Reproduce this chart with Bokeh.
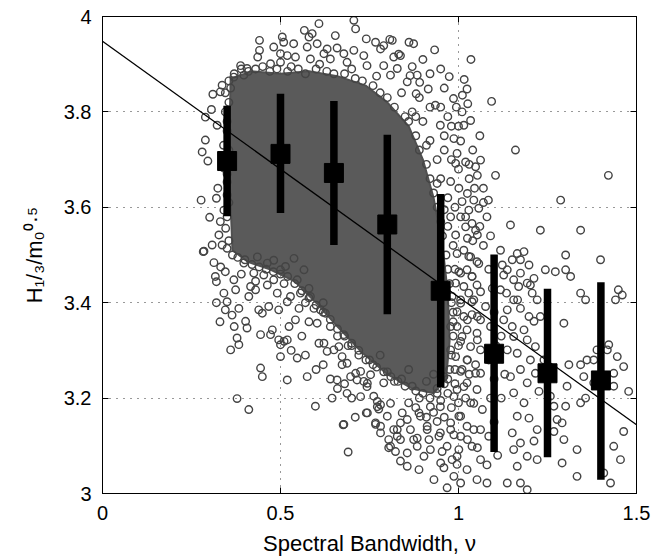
from bokeh.plotting import figure
from bokeh.models import LinearAxis, FixedTicker, Range1d, ColumnDataSource
from bokeh.embed import file_html
from bokeh.resources import INLINE

# ---------------- data ----------------
x_ticks = [0, 0.5, 1, 1.5]
x_tick_labels = ["0", "0.5", "1", "1.5"]
y_ticks = [3, 3.2, 3.4, 3.6, 3.8, 4]
y_tick_labels = ["3", "3.2", "3.4", "3.6", "3.8", "4"]

# binned means with +/- one standard deviation
bin_x = [0.35, 0.5, 0.65, 0.8, 0.95, 1.1, 1.25, 1.4]
bin_mean = [3.697, 3.712, 3.672, 3.564, 3.425, 3.293, 3.252, 3.237]
bin_hi = [3.813, 3.838, 3.823, 3.752, 3.628, 3.501, 3.429, 3.443]
bin_lo = [3.581, 3.588, 3.521, 3.376, 3.223, 3.087, 3.076, 3.029]

# least-squares line
fit_x = [0.0, 1.5]
fit_y = [3.948, 3.144]

# outline of the region where the markers overlap into a solid mass
core_x = [0.36, 0.42, 0.50, 0.58, 0.66, 0.74, 0.80, 0.86, 0.90, 0.93, 0.955, 0.97,
          0.975, 0.965, 0.93, 0.87, 0.80, 0.73, 0.66, 0.60, 0.54, 0.47, 0.41, 0.365, 0.355]
core_y = [3.87, 3.885, 3.88, 3.885, 3.875, 3.855, 3.82, 3.77, 3.70, 3.62, 3.52, 3.42,
          3.32, 3.24, 3.21, 3.22, 3.25, 3.295, 3.35, 3.40, 3.445, 3.47, 3.485, 3.51, 3.70]

# observations sitting on the edge of the solid mass
edge_points = [
    (0.37, 3.88), (0.39, 3.89), (0.41, 3.885), (0.43, 3.89), (0.47, 3.885), (0.49, 3.89),
    (0.52, 3.885), (0.55, 3.89), (0.57, 3.88), (0.60, 3.89), (0.63, 3.885), (0.65, 3.88),
    (0.68, 3.88), (0.71, 3.87), (0.73, 3.865), (0.76, 3.855), (0.78, 3.84), (0.80, 3.83),
    (0.82, 3.81), (0.85, 3.79), (0.86, 3.78), (0.88, 3.75), (0.89, 3.72), (0.91, 3.69),
    (0.92, 3.66), (0.93, 3.63), (0.94, 3.60), (0.95, 3.57), (0.955, 3.54), (0.965, 3.50),
    (0.97, 3.47), (0.975, 3.44), (0.98, 3.40), (0.985, 3.36), (0.985, 3.33), (0.98, 3.29),
    (0.975, 3.26), (0.96, 3.23), (0.94, 3.21), (0.92, 3.20), (0.90, 3.21), (0.88, 3.215),
    (0.85, 3.225), (0.83, 3.235), (0.81, 3.245), (0.79, 3.255), (0.77, 3.265), (0.74, 3.28),
    (0.72, 3.30), (0.70, 3.315), (0.68, 3.33), (0.66, 3.345), (0.64, 3.365), (0.62, 3.38),
    (0.60, 3.395), (0.58, 3.41), (0.56, 3.425), (0.54, 3.44), (0.52, 3.455), (0.50, 3.46),
    (0.48, 3.465), (0.46, 3.47), (0.44, 3.475), (0.42, 3.48), (0.40, 3.49), (0.38, 3.495),
    (0.365, 3.50), (0.355, 3.53), (0.35, 3.58), (0.355, 3.61), (0.35, 3.67), (0.355, 3.72),
    (0.35, 3.78), (0.355, 3.82), (0.36, 3.85),
]

# individually visible observations (x = bandwidth, y = H1/3 / m0^0.5)
cloud_points = [
    (0.336, 3.856), (0.310, 3.837), (0.331, 3.842), (0.306, 3.805), (0.289, 3.789),
    (0.322, 3.772), (0.289, 3.741), (0.280, 3.716), (0.296, 3.697), (0.277, 3.615),
    (0.301, 3.579), (0.320, 3.619), (0.331, 3.570), (0.341, 3.594), (0.327, 3.542),
    (0.308, 3.521), (0.285, 3.508), (0.336, 3.521), (0.341, 3.682), (0.350, 3.653),
    (0.324, 3.640), (0.350, 3.626), (0.346, 3.556), (0.350, 3.514),
    (0.345, 3.80), (0.35, 3.76), (0.34, 3.73), (0.345, 3.84), (0.355, 3.865),
    (0.441, 3.950), (0.441, 3.929), (0.436, 3.915), (0.472, 3.901), (0.481, 3.936),
    (0.505, 3.957), (0.509, 3.946), (0.500, 3.922), (0.500, 3.904), (0.519, 3.918),
    (0.537, 3.943), (0.542, 3.915), (0.567, 3.971), (0.580, 3.957), (0.589, 3.964),
    (0.575, 3.936), (0.603, 3.943), (0.608, 3.985), (0.622, 3.922), (0.631, 3.932),
    (0.654, 3.960), (0.659, 3.934), (0.678, 3.922), (0.706, 3.992), (0.711, 3.974),
    (0.706, 3.929), (0.734, 3.918), (0.741, 3.953), (0.767, 3.946), (0.781, 3.932),
    (0.790, 3.939), (0.814, 3.950), (0.818, 3.915), (0.837, 3.918), (0.874, 3.943),
    (0.884, 3.877), (0.828, 3.891), (0.856, 3.863), (0.790, 3.897), (0.809, 3.877),
    (0.743, 3.897), (0.687, 3.904), (0.640, 3.911), (0.584, 3.911), (0.388, 3.897),
    (0.406, 3.891), (0.369, 3.873), (0.397, 3.877),
    (0.45, 3.895), (0.53, 3.895), (0.61, 3.90), (0.70, 3.89), (0.77, 3.875), (0.84, 3.84),
    (0.88, 3.79), (0.91, 3.73), (0.94, 3.65), (0.97, 3.56), (0.99, 3.47),
    (0.933, 3.930), (0.974, 3.874), (1.016, 3.868), (1.024, 3.848), (1.035, 3.910),
    (0.986, 3.828), (0.994, 3.810), (1.026, 3.817), (1.093, 3.822), (0.861, 3.946),
    (0.832, 3.921), (0.864, 3.876), (0.891, 3.862), (0.915, 3.848), (0.935, 3.814),
    (0.881, 3.838), (0.807, 3.952),
    (0.97, 3.79), (0.96, 3.85), (0.92, 3.88), (0.95, 3.89), (0.90, 3.91), (0.87, 3.895),
    (1.04, 3.72), (1.06, 3.75), (1.03, 3.66), (1.07, 3.64), (1.08, 3.58), (1.09, 3.54),
    (1.07, 3.52), (1.085, 3.47), (1.095, 3.43), (1.10, 3.38), (1.09, 3.35), (1.105, 3.31),
    (1.085, 3.28), (1.10, 3.24), (1.09, 3.20), (1.10, 3.15), (1.085, 3.12), (1.11, 3.08),
    (1.08, 3.06), (1.12, 3.20), (1.13, 3.25), (1.12, 3.33), (1.135, 3.42),
    (0.96, 3.75), (0.98, 3.70), (1.00, 3.68), (0.97, 3.62), (0.99, 3.60), (1.02, 3.58),
    (0.96, 3.595), (0.985, 3.52), (1.015, 3.51), (1.04, 3.53), (1.06, 3.56), (1.07, 3.61),
    (1.045, 3.64), (1.03, 3.69), (1.01, 3.80), (0.98, 3.77), (0.95, 3.81), (0.92, 3.81),
    (0.96, 3.72), (1.00, 3.77),
    (0.86, 3.19), (0.88, 3.18), (0.91, 3.16), (0.93, 3.17), (0.96, 3.16), (0.98, 3.18),
    (1.00, 3.19), (1.02, 3.20), (1.03, 3.25), (0.97, 3.21), (0.99, 3.23), (1.01, 3.26),
    (0.87, 3.80), (0.90, 3.78), (0.92, 3.74), (0.89, 3.83), (0.94, 3.70), (0.95, 3.66),
    (0.949, 3.772), (0.987, 3.744), (1.006, 3.739), (1.015, 3.772), (0.996, 3.713),
    (0.992, 3.692), (1.020, 3.695), (1.048, 3.685), (1.053, 3.667), (0.978, 3.654),
    (1.001, 3.640), (1.025, 3.629), (1.010, 3.612), (1.043, 3.615), (1.029, 3.594),
    (1.057, 3.598), (0.978, 3.580), (1.006, 3.580), (1.038, 3.566), (1.020, 3.559),
    (1.053, 3.542), (0.992, 3.542), (1.025, 3.535), (0.996, 3.503), (1.034, 3.496),
    (1.057, 3.482), (1.006, 3.462), (1.038, 3.455), (1.006, 3.406), (1.038, 3.402),
    (0.996, 3.381), (1.025, 3.364), (1.053, 3.371), (0.978, 3.350), (1.010, 3.329),
    (1.053, 3.322), (0.978, 3.301), (1.025, 3.280), (1.048, 3.252), (0.959, 3.245),
    (1.015, 3.224), (0.987, 3.203), (1.043, 3.189), (0.949, 3.182), (1.006, 3.162),
    (0.978, 3.148), (1.043, 3.134), (1.025, 3.113), (1.053, 3.096), (0.949, 3.127),
    (0.912, 3.141), (0.884, 3.116), (0.837, 3.113), (0.804, 3.096), (0.767, 3.145),
    (0.781, 3.127), (0.828, 3.134), (0.856, 3.155), (0.889, 3.169), (0.921, 3.182),
    (0.772, 3.182), (0.809, 3.189), (0.678, 3.145), (0.744, 3.169), (0.725, 3.203),
    (0.687, 3.210), (0.711, 3.252), (0.744, 3.231),
    (0.283, 3.507), (0.313, 3.484), (0.317, 3.455), (0.320, 3.444), (0.345, 3.465),
    (0.341, 3.420), (0.350, 3.402), (0.345, 3.385), (0.364, 3.374), (0.360, 3.301),
    (0.374, 3.427), (0.383, 3.388), (0.383, 3.312), (0.378, 3.326), (0.402, 3.361),
    (0.406, 3.347), (0.411, 3.413), (0.416, 3.434), (0.430, 3.427), (0.439, 3.385),
    (0.444, 3.333), (0.449, 3.378), (0.444, 3.263), (0.449, 3.245), (0.463, 3.437),
    (0.467, 3.392), (0.472, 3.333), (0.477, 3.343), (0.481, 3.448), (0.491, 3.420),
    (0.495, 3.385), (0.495, 3.322), (0.500, 3.312), (0.500, 3.287), (0.510, 3.319),
    (0.519, 3.402), (0.519, 3.322), (0.524, 3.350), (0.528, 3.413), (0.542, 3.364),
    (0.547, 3.284), (0.552, 3.388), (0.556, 3.420), (0.519, 3.238), (0.575, 3.245),
    (0.584, 3.413), (0.594, 3.388), (0.603, 3.357), (0.608, 3.315), (0.598, 3.183),
    (0.612, 3.385), (0.622, 3.315), (0.626, 3.378), (0.631, 3.298), (0.645, 3.200),
    (0.650, 3.301), (0.664, 3.308), (0.659, 3.238), (0.673, 3.287), (0.673, 3.270),
    (0.676, 3.144), (0.678, 3.333), (0.687, 3.273), (0.690, 3.087), (0.697, 3.245),
    (0.715, 3.238), (0.725, 3.256), (0.734, 3.235), (0.743, 3.224), (0.741, 3.169),
    (0.753, 3.249), (0.762, 3.204), (0.767, 3.148), (0.772, 3.193), (0.781, 3.186),
    (0.781, 3.141), (0.790, 3.232), (0.800, 3.162), (0.804, 3.113), (0.809, 3.099),
    (0.818, 3.134), (0.823, 3.088), (0.828, 3.120), (0.837, 3.148), (0.837, 3.068),
    (0.842, 3.169), (0.856, 3.057), (0.856, 3.085), (0.865, 3.134), (0.874, 3.113),
    (0.884, 3.099), (0.889, 3.050), (0.893, 3.162), (0.903, 3.078), (0.912, 3.134),
    (0.917, 3.113), (0.921, 3.092), (0.931, 3.029), (0.940, 3.151), (0.945, 3.120),
    (0.950, 3.064), (0.954, 3.088), (0.959, 3.054), (0.968, 3.099), (0.968, 3.012),
    (0.978, 3.134), (0.982, 3.071), (0.987, 3.123), (0.996, 3.061), (1.001, 3.092),
    (0.378, 3.199), (0.411, 3.176), (0.776, 3.177), (0.514, 3.476), (0.547, 3.448),
    (0.500, 3.469), (0.463, 3.483), (0.425, 3.462), (0.397, 3.483), (0.369, 3.448),
    (0.435, 3.496), (0.481, 3.489), (0.538, 3.493), (0.566, 3.469), (0.453, 3.458),
    (0.332, 3.475), (0.39, 3.46), (0.43, 3.445), (0.51, 3.44), (0.58, 3.43), (0.62, 3.40),
    (0.57, 3.40), (0.64, 3.35), (0.69, 3.31), (0.66, 3.33), (0.75, 3.28), (0.82, 3.235),
    (0.32, 3.40), (0.33, 3.36), (0.37, 3.35), (0.53, 3.30), (0.56, 3.33), (0.58, 3.36),
    (0.57, 3.29), (0.60, 3.26), (0.62, 3.27), (0.64, 3.24), (0.66, 3.22), (0.70, 3.20),
    (0.68, 3.23), (0.71, 3.16),
    (0.72, 3.29), (0.76, 3.27), (0.80, 3.255), (0.84, 3.24), (0.87, 3.225), (0.91, 3.235),
    (0.94, 3.22), (0.70, 3.31), (0.78, 3.29), (0.86, 3.26), (0.93, 3.25), (0.97, 3.24),
    (0.89, 3.20), (0.95, 3.195), (0.99, 3.26), (1.0, 3.31), (0.985, 3.38),
    (1.029, 3.497), (1.052, 3.486), (1.001, 3.465), (1.024, 3.469), (1.038, 3.455),
    (0.992, 3.441), (1.015, 3.434), (1.052, 3.437), (1.029, 3.420), (0.982, 3.413),
    (1.006, 3.399), (1.043, 3.406), (1.062, 3.423), (1.076, 3.392), (1.015, 3.371),
    (1.038, 3.375), (1.062, 3.364), (0.996, 3.350), (1.024, 3.343), (1.052, 3.336),
    (1.006, 3.319), (1.034, 3.308), (1.062, 3.301), (0.992, 3.287), (1.024, 3.280),
    (1.048, 3.270), (1.006, 3.256), (1.062, 3.252), (1.024, 3.232), (1.052, 3.218),
    (0.996, 3.218), (1.034, 3.190), (1.067, 3.176), (1.001, 3.162), (1.024, 3.141),
    (1.062, 3.134), (1.006, 3.120), (1.038, 3.099), (0.996, 3.078), (1.062, 3.071),
    (1.024, 3.050), (1.052, 3.029), (1.080, 3.022), (0.987, 3.036), (1.006, 3.022),
    (1.123, 3.479), (1.137, 3.469), (1.151, 3.490), (1.165, 3.503), (1.184, 3.507),
    (1.127, 3.458), (1.155, 3.448), (1.174, 3.462), (1.198, 3.479), (1.212, 3.451),
    (1.169, 3.434), (1.193, 3.441), (1.207, 3.420), (1.221, 3.406), (1.155, 3.406),
    (1.137, 3.385), (1.174, 3.388), (1.198, 3.371), (1.127, 3.364), (1.151, 3.350),
    (1.184, 3.343), (1.212, 3.361), (1.230, 3.371), (1.155, 3.329), (1.193, 3.322),
    (1.216, 3.308), (1.240, 3.280), (1.137, 3.301), (1.165, 3.294), (1.202, 3.280),
    (1.174, 3.260), (1.216, 3.252), (1.146, 3.245), (1.193, 3.232), (1.226, 3.214),
    (1.155, 3.211), (1.184, 3.190), (1.165, 3.162), (1.198, 3.158), (1.221, 3.134),
    (1.151, 3.127), (1.174, 3.106), (1.212, 3.110), (1.155, 3.092), (1.193, 3.078),
    (1.221, 3.071), (1.165, 3.057), (1.137, 3.022), (1.174, 3.022), (1.193, 3.008),
    (1.258, 3.204), (1.268, 3.183), (1.277, 3.155), (1.268, 3.130), (1.291, 3.148),
    (1.296, 3.113), (1.291, 3.064), (1.333, 3.036), (1.343, 3.420), (1.315, 3.455),
    (1.272, 3.465), (1.301, 3.469), (1.352, 3.245), (1.361, 3.280), (1.310, 3.270),
    (1.343, 3.270), (1.357, 3.200), (1.380, 3.232), (1.422, 3.312), (1.418, 3.301),
    (1.436, 3.252), (1.446, 3.287), (1.460, 3.416), (1.464, 3.266), (1.436, 3.225),
    (1.441, 3.406), (1.455, 3.071), (1.464, 3.130), (1.427, 3.022), (1.408, 3.043),
    (1.478, 3.214), (1.296, 3.357), (1.305, 3.225), (1.343, 3.190), (1.301, 3.183),
    (1.333, 3.092), (1.380, 3.280), (1.389, 3.301), (1.436, 3.099),
    (1.048, 3.552), (1.084, 3.615), (1.104, 3.667), (1.160, 3.720), (1.062, 3.699),
    (1.174, 3.490), (1.230, 3.552), (1.287, 3.615), (1.244, 3.469), (1.357, 3.406),
    (1.399, 3.490), (1.449, 3.427), (1.421, 3.667), (1.034, 3.782), (1.011, 3.835),
    (1.118, 3.510), (1.146, 3.563), (1.202, 3.437), (1.301, 3.500), (1.343, 3.552),
    (1.118, 3.427), (1.166, 3.406),
]

# ---------------- figure ----------------
FONT = "Liberation Sans"
p = figure(width=652, height=558, x_range=Range1d(0, 1.5), y_range=Range1d(3, 4),
           output_backend="svg", toolbar_location=None,
           min_border_left=102, min_border_right=16, min_border_top=16,
           min_border_bottom=64)
p.background_fill_color = "white"
p.border_fill_color = "white"
p.outline_line_color = "black"
p.outline_line_width = 1

for ax, ticks, labels, standoff in ((p.xaxis[0], x_ticks, x_tick_labels, 12),
                                    (p.yaxis[0], y_ticks, y_tick_labels, 11)):
    ax.ticker = FixedTicker(ticks=ticks)
    ax.major_label_overrides = {t: l for t, l in zip(ticks, labels)}
    ax.major_tick_in = 6
    ax.major_tick_out = 0
    ax.minor_tick_line_color = None
    ax.axis_line_color = "black"
    ax.major_tick_line_color = "black"
    ax.major_label_text_font = FONT
    ax.major_label_text_font_size = "20px"
    ax.major_label_text_color = "black"
    ax.major_label_standoff = standoff

p.xaxis.axis_label = "Spectral Bandwidth, \u03bd"
p.xaxis.axis_label_standoff = 8
# H_{1/3} / m_0^{0.5}
p.yaxis.axis_label = "H\u2081/\u2083/m\u2080\u2070\u00b7\u2075"
p.yaxis.axis_label_standoff = 14
for ax in (p.xaxis[0], p.yaxis[0]):
    ax.axis_label_text_font = FONT
    ax.axis_label_text_font_size = "22px"
    ax.axis_label_text_font_style = "normal"
    ax.axis_label_text_color = "black"

# tick marks on the top and right edges of the box
for loc, ticks in (("right", y_ticks), ("above", x_ticks)):
    ax = LinearAxis(ticker=FixedTicker(ticks=ticks),
                    major_label_overrides={t: "" for t in ticks},
                    major_label_text_font_size="0px", major_label_standoff=0,
                    major_tick_in=6, major_tick_out=0, minor_tick_line_color=None,
                    axis_line_color="black", major_tick_line_color="black")
    p.add_layout(ax, loc)

p.xgrid.ticker = FixedTicker(ticks=x_ticks)
p.ygrid.ticker = FixedTicker(ticks=y_ticks)
for g in (p.xgrid[0], p.ygrid[0]):
    g.grid_line_color = "black"
    g.grid_line_dash = "1 6"
    g.grid_line_width = 1
    g.grid_line_alpha = 0.8

# scatter cloud
GREY = "#444444"
p.patch(core_x, core_y, fill_color="#5a5a5a", line_color="#505050", line_width=2,
        line_join="round")
all_pts = edge_points + cloud_points
pts = ColumnDataSource(dict(x=[q[0] for q in all_pts], y=[q[1] for q in all_pts]))
p.scatter("x", "y", source=pts, marker="circle", size=7.5, fill_color=None,
          line_color=GREY, line_width=1.4)

# fit line
p.line(fit_x, fit_y, line_color="black", line_width=1.3)

# error bars with mean markers
p.segment(x0=bin_x, y0=bin_lo, x1=bin_x, y1=bin_hi, line_color="black", line_width=7.5,
          line_cap="butt")
p.scatter(bin_x, bin_mean, marker="square", size=19, fill_color="black", line_color="black")

open("out.html", "w").write(file_html(p, INLINE))
